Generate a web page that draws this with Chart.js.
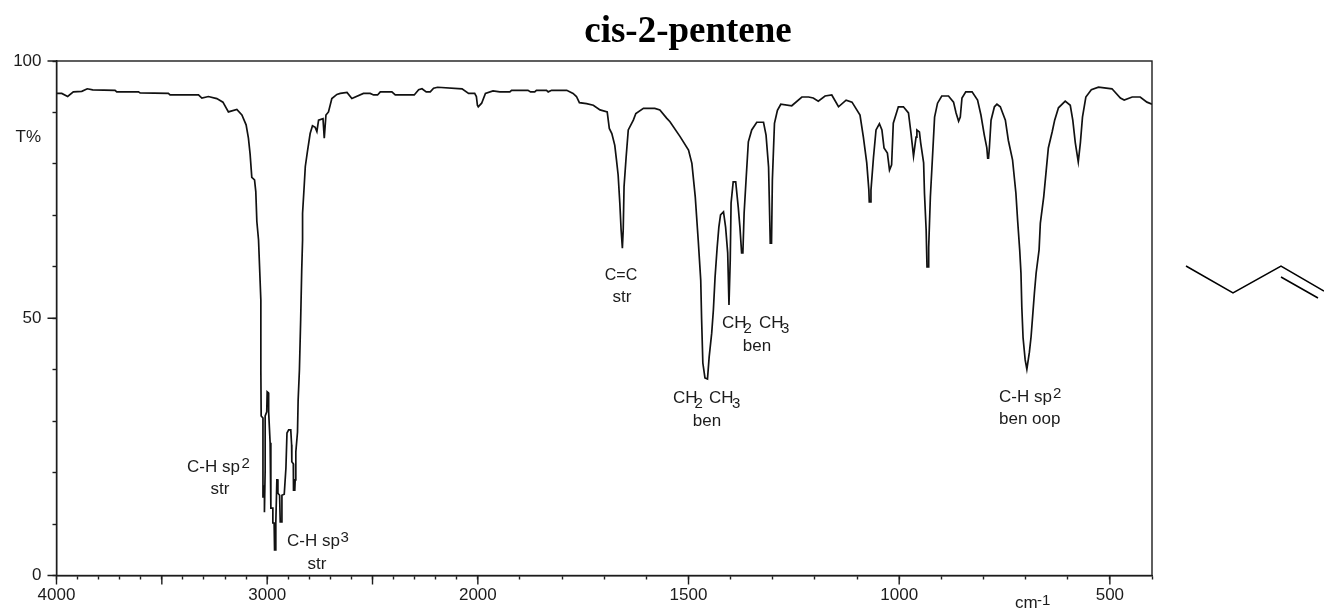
<!DOCTYPE html>
<html>
<head>
<meta charset="utf-8">
<title>cis-2-pentene</title>
<script src="https://cdn.jsdelivr.net/npm/chart.js@4"></script>
<style>
    html, body { margin: 0; padding: 0; background: #fff; }
    canvas { display: block; }
</style>
</head>
<body>
<canvas id="irChart" width="1324" height="610"></canvas>
<script>
// Spectrum, in trace order (the narrow C-H region doubles back)
const wavenumbers = [
    4000, 3975, 3947, 3920, 3880, 3854, 3828, 3722, 3714, 3611, 3603, 3469, 3461, 3326, 3310, 3279, 3239, 3210, 3184, 3144,
    3120, 3100, 3089, 3081, 3073, 3060, 3054, 3049, 3041, 3030, 3030, 3028.5, 3020, 3020, 3018, 3013, 3013, 3009.5, 3009.5, 3002,
    3000, 2994, 2993, 2986, 2982.5, 2982.5, 2973, 2973, 2967, 2965, 2962, 2959, 2954, 2950, 2949, 2941, 2938, 2931, 2930, 2919,
    2911, 2906, 2898, 2888, 2884, 2883, 2876, 2875, 2869, 2867, 2864, 2856, 2853, 2847, 2841, 2836, 2832, 2832, 2824, 2819,
    2809, 2796, 2785, 2772, 2764, 2756, 2735, 2729, 2721, 2709, 2693, 2669, 2653, 2621, 2598, 2543, 2511, 2495, 2476, 2463,
    2408, 2392, 2302, 2281, 2265, 2245, 2226, 2210, 2191, 2075, 2044, 2015, 2007, 2002, 1999, 1991, 1982, 1964, 1948, 1924,
    1920, 1881, 1875, 1865, 1861, 1837, 1833, 1825, 1789, 1774, 1766, 1759, 1742, 1726, 1710, 1693, 1688, 1682, 1675, 1671,
    1667, 1663, 1660, 1657, 1655, 1653, 1648, 1643, 1631, 1625, 1607, 1580, 1568, 1552, 1544, 1520, 1500, 1492, 1484, 1477,
    1471, 1469, 1466, 1461, 1455, 1451, 1445, 1441, 1437, 1432, 1428, 1424, 1417, 1412, 1407, 1404, 1401, 1399, 1394, 1388,
    1382, 1378, 1374, 1371, 1368, 1363, 1358, 1350, 1338, 1322, 1316, 1310, 1306, 1303, 1301, 1296, 1289, 1281, 1255, 1231,
    1215, 1204, 1192, 1176, 1160, 1144, 1126, 1112, 1093, 1085, 1077, 1072, 1071, 1067, 1067, 1061, 1055, 1047, 1041, 1036,
    1028, 1023, 1018, 1014, 1002, 990, 978, 972, 966, 960, 958, 952, 949, 942, 940, 936, 934, 931, 930, 926,
    921, 916, 909, 899, 883, 871, 865, 859, 855, 851, 842, 827, 814, 806, 798, 792, 790, 788, 786, 782,
    774, 768, 760, 748, 741, 731, 723, 719, 714, 711, 709, 706, 701, 697, 691, 687, 683, 679, 675, 668,
    665, 657, 651, 646, 637, 631, 622, 606, 594, 588, 582, 575, 570, 565, 557, 544, 527, 495, 475, 466,
    447, 428, 412, 400
];
const transmittance = [
    93.7, 93.7, 93.1, 94.0, 94.1, 94.6, 94.4, 94.3, 94.0, 94.0, 93.8, 93.7, 93.4, 93.4, 92.8, 93.1, 92.7, 92.0, 90.1, 90.6,
    89.5, 87.6, 85.0, 81.9, 77.4, 76.9, 74.6, 68.8, 65.2, 53.5, 39.9, 31.0, 30.6, 15.1, 17.4, 17.4, 12.3, 20.5, 31.0, 31.8,
    35.7, 35.5, 31.8, 25.8, 25.4, 13.1, 13.1, 10.2, 10.2, 5.0, 5.0, 10.2, 18.6, 18.6, 16.0, 15.6, 10.4, 10.4, 15.6, 15.8,
    20.9, 27.7, 28.3, 28.3, 25.4, 22.1, 21.7, 16.6, 16.6, 18.6, 24.0, 27.9, 34.1, 39.9, 49.7, 59.4, 65.2, 70.4, 75.9, 79.5,
    82.4, 85.9, 87.4, 87.1, 86.3, 88.5, 88.8, 85.0, 89.5, 90.1, 92.7, 93.5, 93.7, 93.9, 92.7, 93.7, 93.7, 93.4, 93.4, 94.0,
    94.0, 93.4, 93.4, 94.4, 94.6, 94.0, 94.0, 94.7, 94.9, 94.6, 93.7, 93.7, 93.1, 91.4, 91.1, 91.8, 93.7, 94.2, 94.0, 94.0,
    94.3, 94.3, 94.0, 94.0, 94.3, 94.3, 94.0, 94.3, 94.3, 93.7, 93.1, 91.9, 91.7, 91.4, 90.5, 90.1, 86.9, 85.9, 83.6, 80.8,
    77.8, 72.3, 67.2, 63.6, 67.2, 75.6, 81.4, 86.6, 88.5, 89.8, 90.8, 90.8, 90.5, 88.9, 88.2, 85.3, 82.7, 80.1, 73.6, 65.2,
    57.4, 50.0, 41.3, 38.4, 38.2, 42.5, 47.1, 51.6, 58.0, 63.8, 67.7, 70.1, 70.7, 67.7, 62.7, 52.6, 61.3, 72.4, 76.5, 76.5,
    71.6, 67.7, 62.7, 62.7, 70.5, 77.5, 84.3, 86.6, 88.1, 88.1, 85.6, 79.4, 64.6, 64.6, 76.9, 87.9, 90.4, 91.6, 91.3, 93.0,
    93.0, 92.8, 92.2, 93.2, 93.4, 91.1, 92.4, 92.0, 89.5, 85.2, 80.2, 74.9, 72.6, 72.6, 74.9, 81.3, 86.6, 87.8, 86.6, 83.1,
    82.1, 78.8, 79.8, 87.9, 91.1, 91.1, 89.9, 86.0, 81.5, 85.2, 86.6, 86.2, 84.1, 80.2, 74.3, 67.1, 60.0, 60.0, 63.8, 73.6,
    81.3, 89.1, 91.8, 93.2, 93.2, 92.0, 89.9, 88.3, 89.1, 92.8, 94.0, 94.0, 92.4, 89.5, 85.6, 83.1, 81.1, 81.1, 83.1, 88.5,
    91.1, 91.6, 91.1, 88.5, 84.6, 80.8, 74.3, 69.1, 63.3, 58.8, 52.2, 46.2, 41.9, 40.1, 43.4, 46.4, 50.7, 55.0, 58.8, 63.3,
    68.5, 73.6, 78.8, 83.1, 86.2, 88.5, 90.9, 92.2, 91.4, 88.5, 84.1, 80.4, 84.1, 89.1, 93.0, 94.4, 94.9, 94.6, 92.8, 92.4,
    93.0, 93.0, 92.0, 91.6
];

// Tick positions and labels
const xTicks = [4000, 3900, 3800, 3700, 3600, 3500, 3400, 3300, 3200, 3100, 3000, 2900, 2800, 2700, 2600, 2500, 2400, 2300, 2200, 2100,
    2000, 1900, 1800, 1700, 1600, 1500, 1400, 1300, 1200, 1100, 1000, 900, 800, 700, 600, 500, 400];
const xLongTicks = [4000, 3500, 3000, 2500, 2000, 1500, 1000, 500];
const xLabels = [4000, 3000, 2000, 1500, 1000, 500];
const yLongTicks = [0, 50, 100];

const INK = '#1c1c1c';
const LABEL_FONT = '17px "Liberation Sans"';
const SMALL_FONT = '15px "Liberation Sans"';

// Text written on the spectrum: [text, x, baseline y, align, font]
const notes = [
    ['T%', 41, 142, 'right', LABEL_FONT],
    ['C-H sp', 187, 472, 'left', LABEL_FONT],
    ['2', 241.5, 468, 'left', SMALL_FONT],
    ['str', 220, 494, 'center', LABEL_FONT],
    ['C-H sp', 287, 546, 'left', LABEL_FONT],
    ['3', 340.5, 542, 'left', SMALL_FONT],
    ['str', 317, 569, 'center', LABEL_FONT],
    ['C=C', 621, 280, 'center', '16px "Liberation Sans"'],
    ['str', 622, 302, 'center', LABEL_FONT],
    ['CH', 722, 328, 'left', LABEL_FONT],
    ['2', 743.5, 333, 'left', SMALL_FONT],
    ['CH', 759, 328, 'left', LABEL_FONT],
    ['3', 781, 333, 'left', SMALL_FONT],
    ['ben', 757, 351, 'center', LABEL_FONT],
    ['CH', 673, 403, 'left', LABEL_FONT],
    ['2', 694.5, 408, 'left', SMALL_FONT],
    ['CH', 709, 403, 'left', LABEL_FONT],
    ['3', 732, 408, 'left', SMALL_FONT],
    ['ben', 707, 426, 'center', LABEL_FONT],
    ['C-H sp', 999, 402, 'left', LABEL_FONT],
    ['2', 1053, 398, 'left', SMALL_FONT],
    ['ben oop', 999, 424, 'left', LABEL_FONT],
    ['cm', 1015, 608, 'left', LABEL_FONT],
    ['-1', 1037, 605, 'left', SMALL_FONT]
];

// The instrument doubles its chart speed below 2000 cm-1, so the axis has two linear parts
class SpectrumScale extends Chart.LinearScale {
    static id = 'spectrum';
    static defaults = Chart.LinearScale.defaults;

    getPixelForValue(value) {
        const span = 2000 + (2000 - 400) * 2;
        const run = value >= 2000 ? 4000 - value : 2000 + (2000 - value) * 2;
        return this.left + (run / span) * this.width;
    }
}
Chart.register(SpectrumScale);

// Box round the plot, longer ticks on round values, notes and the structure drawing
const spectrumExtras = {
    id: 'spectrumExtras',
    afterLayout(chart) {
        // title sits well right of centre in the original
        chart.titleBlock.left += 112;
        chart.titleBlock.right += 112;
    },
    afterDraw(chart) {
        const ctx = chart.ctx;
        const area = chart.chartArea;
        const xScale = chart.scales.x;
        const yScale = chart.scales.y;
        ctx.save();
        ctx.strokeStyle = INK;
        ctx.lineWidth = 1.4;
        ctx.strokeRect(area.left, area.top, area.right - area.left, area.bottom - area.top);

        ctx.beginPath();
        xLongTicks.forEach(v => {
            const px = xScale.getPixelForValue(v);
            ctx.moveTo(px, area.bottom);
            ctx.lineTo(px, area.bottom + 9);
        });
        yLongTicks.forEach(v => {
            const py = yScale.getPixelForValue(v);
            ctx.moveTo(area.left, py);
            ctx.lineTo(area.left - 9, py);
        });
        ctx.stroke();

        ctx.fillStyle = INK;
        ctx.textBaseline = 'alphabetic';
        notes.forEach(n => {
            ctx.font = n[4];
            ctx.textAlign = n[3];
            ctx.fillText(n[0], n[1], n[2]);
        });

        // cis-2-pentene skeleton at the right edge
        ctx.strokeStyle = '#000';
        ctx.lineWidth = 1.5;
        ctx.beginPath();
        ctx.moveTo(1186, 266);
        ctx.lineTo(1233, 293);
        ctx.lineTo(1281, 266);
        ctx.lineTo(1324, 291);
        ctx.moveTo(1281, 277);
        ctx.lineTo(1318, 298);
        ctx.stroke();
        ctx.restore();
    }
};

new Chart(document.getElementById('irChart').getContext('2d'), {
    type: 'line',
    data: {
        datasets: [{
            data: wavenumbers.map((w, i) => ({ x: w, y: transmittance[i] })),
            borderColor: '#111',
            borderWidth: 1.7,
            pointRadius: 0,
            tension: 0,
            fill: false
        }]
    },
    options: {
        responsive: false,
        animation: false,
        layout: { padding: { right: 172 } },
        plugins: {
            legend: { display: false },
            tooltip: { enabled: false },
            title: {
                display: true,
                text: 'cis-2-pentene',
                color: '#000',
                font: { family: '"Liberation Serif"', size: 37, weight: 'bold', lineHeight: 1.2 },
                padding: { top: 10, bottom: 6.6 }
            }
        },
        scales: {
            x: {
                type: 'spectrum',
                min: 400,
                max: 4000,
                afterBuildTicks: scale => { scale.ticks = xTicks.map(v => ({ value: v })); },
                afterFit: scale => { scale.height = 34.5; },
                grid: { drawOnChartArea: false, tickLength: 4, tickColor: INK, tickWidth: 1.4 },
                border: { color: INK, width: 1.4 },
                ticks: {
                    autoSkip: false,
                    maxRotation: 0,
                    color: INK,
                    padding: 6,
                    font: { family: '"Liberation Sans"', size: 17 },
                    callback: v => xLabels.includes(v) ? String(v) : ''
                }
            },
            y: {
                min: 0,
                max: 100,
                afterFit: scale => { scale.width = 56.5; },
                grid: { drawOnChartArea: false, tickLength: 4, tickColor: INK, tickWidth: 1.4 },
                border: { color: INK, width: 1.4 },
                ticks: {
                    stepSize: 10,
                    autoSkip: false,
                    color: INK,
                    padding: 11,
                    font: { family: '"Liberation Sans"', size: 17 },
                    callback: v => yLongTicks.includes(v) ? String(v) : ''
                }
            }
        }
    },
    plugins: [spectrumExtras]
});
</script>
</body>
</html>
